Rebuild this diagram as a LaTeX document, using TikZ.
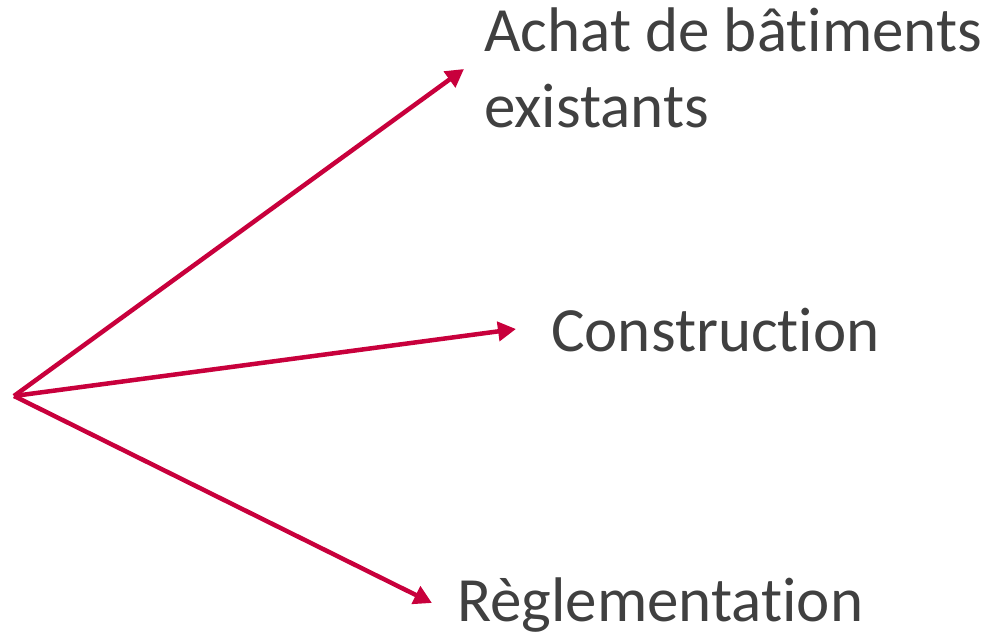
\documentclass[tikz,border=0pt]{standalone}
\usepackage{fontspec}
\setmainfont[Ligatures=NoCommon]{Carlito}
\usetikzlibrary{arrows.meta}
\definecolor{arrowred}{RGB}{200,0,60}
\definecolor{txtgray}{RGB}{64,64,64}
\begin{document}
\begin{tikzpicture}[x=1pt,y=1pt,
  conn/.style={draw=arrowred,line width=4.5pt,-{Triangle[length=18pt,width=19pt]}},
  lbl/.style={inner sep=0pt,text=txtgray,font=\fontsize{63}{76}\selectfont,align=left}]
\useasboundingbox (0,0) rectangle (996,634);
\coordinate (o) at (14,238);
\coordinate (t1) at (464,565);
\coordinate (t2) at (516,305);
\coordinate (t3) at (432,31);
\node[lbl,anchor=base west] (a) at (484,506) {Achat de bâtiments\\existants};
\node[lbl,anchor=base west] (c) at (551,282) {Construction};
\node[lbl,anchor=base west] (r) at (457,12) {Règlementation};
\draw[conn] (o) -- (t1);
\draw[conn] (o) -- (t2);
\draw[conn] (o) -- (t3);
\end{tikzpicture}
\end{document}
